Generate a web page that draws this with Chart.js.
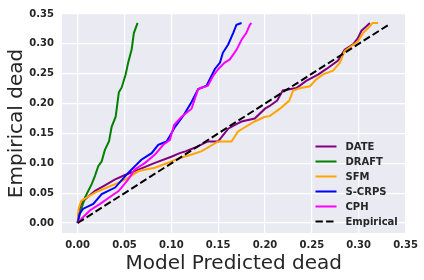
<!DOCTYPE html>
<html>
<head>
<meta charset="utf-8">
<script src="https://cdn.jsdelivr.net/npm/chart.js@4.4.0/dist/chart.umd.min.js"></script>
<style>
html, body { margin: 0; padding: 0; background: #fff; }
</style>
</head>
<body>
<canvas id="mycanvas" width="424" height="280"></canvas>
<script>
// values
var date_x = [0, 0.001, 0.003, 0.008, 0.0186, 0.030, 0.040, 0.05, 0.061, 0.0825, 0.1, 0.109, 0.115, 0.125, 0.139, 0.15, 0.1607, 0.170, 0.175, 0.189, 0.2, 0.205, 0.213, 0.219, 0.2336, 0.244, 0.257, 0.2656, 0.278, 0.285, 0.294, 0.299, 0.303, 0.308, 0.312];
var date_y = [0, 0.015, 0.03, 0.04, 0.054, 0.064, 0.073, 0.08, 0.087, 0.1007, 0.111, 0.117, 0.12, 0.126, 0.1366, 0.1366, 0.158, 0.166, 0.17, 0.175, 0.1915, 0.196, 0.205, 0.222, 0.226, 0.238, 0.249, 0.258, 0.272, 0.29, 0.299, 0.309, 0.322, 0.329, 0.335];

var draft_x = [0, 0.002, 0.0044, 0.0079, 0.0114, 0.015, 0.0185, 0.022, 0.0257, 0.029, 0.0335, 0.0363, 0.0406, 0.044, 0.047, 0.0513, 0.054, 0.0577, 0.060, 0.064];
var draft_y = [0, 0.013, 0.026, 0.043, 0.054, 0.065, 0.079, 0.095, 0.1035, 0.122, 0.137, 0.161, 0.178, 0.219, 0.227, 0.249, 0.269, 0.291, 0.318, 0.335];

var sfm_x = [0, 0.001, 0.004, 0.0186, 0.040, 0.052, 0.065, 0.0825, 0.095, 0.109, 0.12, 0.132, 0.15, 0.1643, 0.171, 0.175, 0.189, 0.2, 0.205, 0.216, 0.226, 0.23, 0.237, 0.248, 0.255, 0.262, 0.2726, 0.28, 0.285, 0.292, 0.299, 0.3046, 0.31, 0.315, 0.3206];
var sfm_y = [0, 0.024, 0.0375, 0.051, 0.065, 0.074, 0.087, 0.0925, 0.1, 0.109, 0.114, 0.12, 0.1366, 0.1366, 0.153, 0.157, 0.17, 0.178, 0.179, 0.1915, 0.205, 0.222, 0.2257, 0.229, 0.241, 0.249, 0.255, 0.2686, 0.288, 0.296, 0.304, 0.318, 0.326, 0.335, 0.335];

var scrps_x = [0, 0.002, 0.006, 0.0167, 0.0257, 0.040, 0.054, 0.068, 0.079, 0.086, 0.095, 0.1, 0.104, 0.113, 0.1216, 0.1287, 0.1376, 0.1465, 0.152, 0.155, 0.1607, 0.166, 0.1696, 0.175];
var scrps_y = [0, 0.0155, 0.024, 0.032, 0.0485, 0.0594, 0.084, 0.106, 0.117, 0.131, 0.1366, 0.15, 0.161, 0.18, 0.2026, 0.2245, 0.23, 0.258, 0.2686, 0.285, 0.299, 0.318, 0.332, 0.335];

var cph_x = [0, 0.006, 0.013, 0.024, 0.0364, 0.044, 0.054, 0.061, 0.072, 0.0825, 0.0914, 0.0985, 0.1029, 0.111, 0.1216, 0.1287, 0.139, 0.1447, 0.150, 0.157, 0.1625, 0.1696, 0.175, 0.180, 0.1838, 0.1856];
var cph_y = [0, 0.01, 0.021, 0.032, 0.0457, 0.054, 0.073, 0.0898, 0.1007, 0.1146, 0.131, 0.139, 0.164, 0.178, 0.1915, 0.2245, 0.23, 0.2467, 0.2576, 0.2686, 0.274, 0.29, 0.307, 0.318, 0.332, 0.335];

var empirical_x = [0, 0.333];
var empirical_y = [0, 0.333];

var labels = ["DATE", "DRAFT", "SFM", "S-CRPS", "CPH", "Empirical"];
var colors = ["#800080", "#008000", "#FFA500", "#0000FF", "#FF00FF", "#000000"];
var tick_values = [0, 0.05, 0.10, 0.15, 0.20, 0.25, 0.30, 0.35];

function points(xs, ys) {
	var out = [];
	for (var i in xs) {
		out.push({x: xs[i], y: ys[i]});
	}
	return out;
}

var series = [
	points(date_x, date_y),
	points(draft_x, draft_y),
	points(sfm_x, sfm_y),
	points(scrps_x, scrps_y),
	points(cph_x, cph_y),
	points(empirical_x, empirical_y)
];

var datasets = [];
for (var i = 0; i < series.length; i++) {
	var last = i == series.length - 1;
	datasets.push({
		label: labels[i],
		data: series[i],
		showLine: true,
		fill: false,
		borderColor: colors[i],
		backgroundColor: colors[i],
		borderWidth: 2,
		borderDash: last ? [7.4, 3.2] : [],
		pointRadius: 0,
		tension: 0,
		order: series.length - i
	});
}

var textColor = "#262626";

var background = {
	id: "background",
	beforeDraw: function(chart) {
		var a = chart.chartArea;
		var c = chart.ctx;
		c.save();
		c.fillStyle = "#EAEAF2";
		c.fillRect(a.left, a.top, a.right - a.left, a.bottom - a.top);
		c.restore();
	}
};

// legend drawn inside the plot, lower right
var innerLegend = {
	id: "innerLegend",
	afterDraw: function(chart) {
		var a = chart.chartArea;
		var c = chart.ctx;
		var x0 = a.right - 90;
		var y0 = a.top + 132.5;
		c.save();
		c.font = "bold 10px 'DejaVu Sans'";
		c.textBaseline = "middle";
		c.fillStyle = textColor;
		chart.data.datasets.forEach(function(ds, i) {
			var y = y0 + i * 15;
			c.strokeStyle = ds.borderColor;
			c.lineWidth = 2;
			c.setLineDash(ds.borderDash);
			c.beginPath();
			c.moveTo(x0, y);
			c.lineTo(x0 + 21, y);
			c.stroke();
			c.setLineDash([]);
			c.fillText(ds.label, x0 + 30, y + 0.5);
		});
		c.restore();
	}
};

function onlyTicks(scale) {
	scale.ticks = tick_values.map(function(v) { return {value: v}; });
}

var ctx = document.getElementById("mycanvas");

var LineGraph = new Chart(ctx, {
	type: "scatter",
	data: { datasets: datasets },
	plugins: [background, innerLegend],
	options: {
		responsive: false,
		animation: false,
		layout: { padding: { left: 0, right: 18.5, top: 11, bottom: 0 } },
		plugins: {
			legend: { display: false },
			tooltip: { enabled: false }
		},
		scales: {
			x: {
				type: "linear",
				min: -0.0167,
				max: 0.35,
				afterBuildTicks: onlyTicks,
				afterFit: function(scale) { scale.height = 47; },
				border: { display: false },
				grid: { color: "#ffffff", lineWidth: 1.2, drawTicks: false },
				ticks: {
					padding: 6,
					color: textColor,
					font: { family: "DejaVu Sans", size: 10, weight: "bold" },
					callback: function(v) { return v.toFixed(2); }
				},
				title: {
					display: true,
					text: "Model Predicted dead",
					color: textColor,
					font: { family: "DejaVu Sans", size: 20 },
					padding: { top: 0, bottom: 4 }
				}
			},
			y: {
				type: "linear",
				min: -0.0167,
				max: 0.35,
				afterBuildTicks: onlyTicks,
				afterFit: function(scale) { scale.width = 62; },
				border: { display: false },
				grid: { color: "#ffffff", lineWidth: 1.2, drawTicks: false },
				ticks: {
					padding: 8,
					color: textColor,
					font: { family: "DejaVu Sans", size: 10, weight: "bold" },
					callback: function(v) { return v.toFixed(2); }
				},
				title: {
					display: true,
					text: "Empirical dead",
					color: textColor,
					font: { family: "DejaVu Sans", size: 20 },
					padding: { top: 5, bottom: 0 }
				}
			}
		}
	}
});
</script>
</body>
</html>
